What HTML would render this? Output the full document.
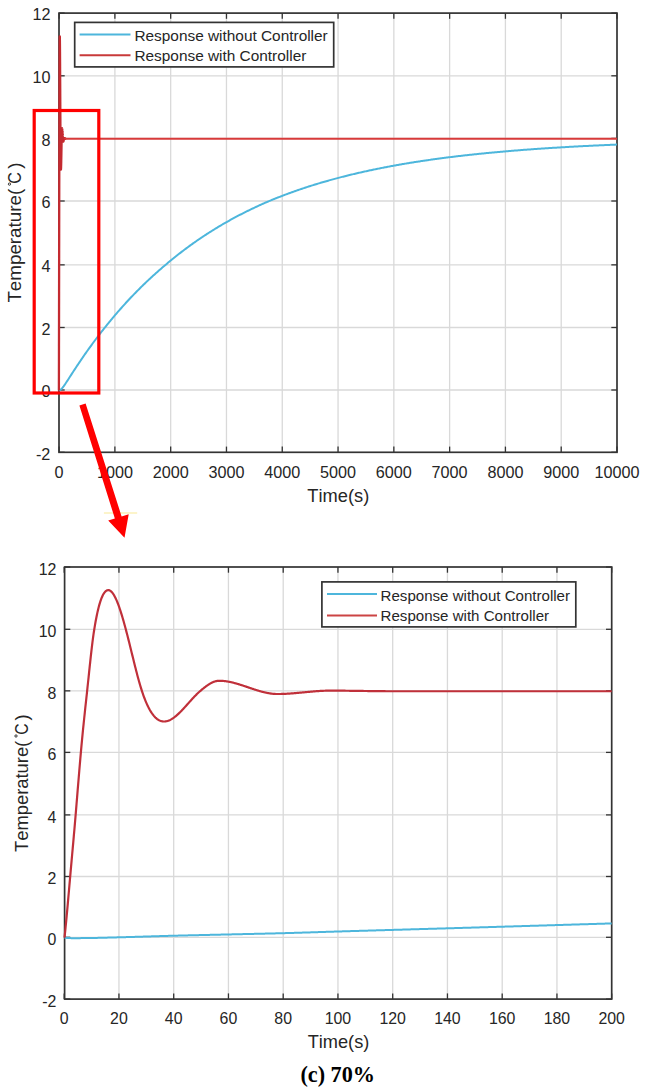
<!DOCTYPE html>
<html><head><meta charset="utf-8"><style>
html,body{margin:0;padding:0;background:#fff;}
svg{display:block;}
text{font-family:"Liberation Sans", sans-serif;fill:#262626;font-kerning:none;}
</style></head><body>
<svg width="645" height="1089" viewBox="0 0 645 1089">
<rect width="645" height="1089" fill="#fff"/>
<line x1="114.89" y1="13.1" x2="114.89" y2="452.3" stroke="#d9d9d9" stroke-width="1.3"/>
<line x1="170.68" y1="13.1" x2="170.68" y2="452.3" stroke="#d9d9d9" stroke-width="1.3"/>
<line x1="226.47" y1="13.1" x2="226.47" y2="452.3" stroke="#d9d9d9" stroke-width="1.3"/>
<line x1="282.26" y1="13.1" x2="282.26" y2="452.3" stroke="#d9d9d9" stroke-width="1.3"/>
<line x1="338.05" y1="13.1" x2="338.05" y2="452.3" stroke="#d9d9d9" stroke-width="1.3"/>
<line x1="393.84" y1="13.1" x2="393.84" y2="452.3" stroke="#d9d9d9" stroke-width="1.3"/>
<line x1="449.63" y1="13.1" x2="449.63" y2="452.3" stroke="#d9d9d9" stroke-width="1.3"/>
<line x1="505.42" y1="13.1" x2="505.42" y2="452.3" stroke="#d9d9d9" stroke-width="1.3"/>
<line x1="561.21" y1="13.1" x2="561.21" y2="452.3" stroke="#d9d9d9" stroke-width="1.3"/>
<line x1="59.0" y1="390.00" x2="617.0" y2="390.00" stroke="#d9d9d9" stroke-width="1.3"/>
<line x1="59.0" y1="327.50" x2="617.0" y2="327.50" stroke="#d9d9d9" stroke-width="1.3"/>
<line x1="59.0" y1="264.85" x2="617.0" y2="264.85" stroke="#d9d9d9" stroke-width="1.3"/>
<line x1="59.0" y1="201.00" x2="617.0" y2="201.00" stroke="#d9d9d9" stroke-width="1.3"/>
<line x1="59.0" y1="138.40" x2="617.0" y2="138.40" stroke="#d9d9d9" stroke-width="1.3"/>
<line x1="59.0" y1="75.80" x2="617.0" y2="75.80" stroke="#d9d9d9" stroke-width="1.3"/>
<line x1="59.10" y1="452.3" x2="59.10" y2="446.6" stroke="#333333" stroke-width="1.3"/>
<line x1="59.10" y1="13.1" x2="59.10" y2="18.8" stroke="#333333" stroke-width="1.3"/>
<line x1="114.89" y1="452.3" x2="114.89" y2="446.6" stroke="#333333" stroke-width="1.3"/>
<line x1="114.89" y1="13.1" x2="114.89" y2="18.8" stroke="#333333" stroke-width="1.3"/>
<line x1="170.68" y1="452.3" x2="170.68" y2="446.6" stroke="#333333" stroke-width="1.3"/>
<line x1="170.68" y1="13.1" x2="170.68" y2="18.8" stroke="#333333" stroke-width="1.3"/>
<line x1="226.47" y1="452.3" x2="226.47" y2="446.6" stroke="#333333" stroke-width="1.3"/>
<line x1="226.47" y1="13.1" x2="226.47" y2="18.8" stroke="#333333" stroke-width="1.3"/>
<line x1="282.26" y1="452.3" x2="282.26" y2="446.6" stroke="#333333" stroke-width="1.3"/>
<line x1="282.26" y1="13.1" x2="282.26" y2="18.8" stroke="#333333" stroke-width="1.3"/>
<line x1="338.05" y1="452.3" x2="338.05" y2="446.6" stroke="#333333" stroke-width="1.3"/>
<line x1="338.05" y1="13.1" x2="338.05" y2="18.8" stroke="#333333" stroke-width="1.3"/>
<line x1="393.84" y1="452.3" x2="393.84" y2="446.6" stroke="#333333" stroke-width="1.3"/>
<line x1="393.84" y1="13.1" x2="393.84" y2="18.8" stroke="#333333" stroke-width="1.3"/>
<line x1="449.63" y1="452.3" x2="449.63" y2="446.6" stroke="#333333" stroke-width="1.3"/>
<line x1="449.63" y1="13.1" x2="449.63" y2="18.8" stroke="#333333" stroke-width="1.3"/>
<line x1="505.42" y1="452.3" x2="505.42" y2="446.6" stroke="#333333" stroke-width="1.3"/>
<line x1="505.42" y1="13.1" x2="505.42" y2="18.8" stroke="#333333" stroke-width="1.3"/>
<line x1="561.21" y1="452.3" x2="561.21" y2="446.6" stroke="#333333" stroke-width="1.3"/>
<line x1="561.21" y1="13.1" x2="561.21" y2="18.8" stroke="#333333" stroke-width="1.3"/>
<line x1="617.00" y1="452.3" x2="617.00" y2="446.6" stroke="#333333" stroke-width="1.3"/>
<line x1="617.00" y1="13.1" x2="617.00" y2="18.8" stroke="#333333" stroke-width="1.3"/>
<line x1="59.0" y1="452.30" x2="64.7" y2="452.30" stroke="#333333" stroke-width="1.3"/>
<line x1="617.0" y1="452.30" x2="611.3" y2="452.30" stroke="#333333" stroke-width="1.3"/>
<line x1="59.0" y1="390.00" x2="64.7" y2="390.00" stroke="#333333" stroke-width="1.3"/>
<line x1="617.0" y1="390.00" x2="611.3" y2="390.00" stroke="#333333" stroke-width="1.3"/>
<line x1="59.0" y1="327.50" x2="64.7" y2="327.50" stroke="#333333" stroke-width="1.3"/>
<line x1="617.0" y1="327.50" x2="611.3" y2="327.50" stroke="#333333" stroke-width="1.3"/>
<line x1="59.0" y1="264.85" x2="64.7" y2="264.85" stroke="#333333" stroke-width="1.3"/>
<line x1="617.0" y1="264.85" x2="611.3" y2="264.85" stroke="#333333" stroke-width="1.3"/>
<line x1="59.0" y1="201.00" x2="64.7" y2="201.00" stroke="#333333" stroke-width="1.3"/>
<line x1="617.0" y1="201.00" x2="611.3" y2="201.00" stroke="#333333" stroke-width="1.3"/>
<line x1="59.0" y1="138.40" x2="64.7" y2="138.40" stroke="#333333" stroke-width="1.3"/>
<line x1="617.0" y1="138.40" x2="611.3" y2="138.40" stroke="#333333" stroke-width="1.3"/>
<line x1="59.0" y1="75.80" x2="64.7" y2="75.80" stroke="#333333" stroke-width="1.3"/>
<line x1="617.0" y1="75.80" x2="611.3" y2="75.80" stroke="#333333" stroke-width="1.3"/>
<line x1="59.0" y1="13.10" x2="64.7" y2="13.10" stroke="#333333" stroke-width="1.3"/>
<line x1="617.0" y1="13.10" x2="611.3" y2="13.10" stroke="#333333" stroke-width="1.3"/>
<rect x="59.0" y="13.1" width="558.00" height="439.20" fill="none" stroke="#333333" stroke-width="1.7"/>
<path d="M58.90,390.40 L59.83,390.16 L60.76,389.53 L61.70,388.64 L62.63,387.56 L63.56,386.35 L64.49,385.05 L65.42,383.70 L66.35,382.30 L67.29,380.88 L68.22,379.44 L69.15,378.00 L70.08,376.55 L71.01,375.10 L71.94,373.65 L72.88,372.21 L73.81,370.78 L74.74,369.35 L75.67,367.93 L76.60,366.52 L77.53,365.12 L78.47,363.72 L79.40,362.33 L80.33,360.95 L81.26,359.58 L82.19,358.22 L83.12,356.86 L84.06,355.52 L84.99,354.18 L85.92,352.85 L86.85,351.53 L87.78,350.22 L88.72,348.91 L89.65,347.61 L90.58,346.33 L91.51,345.05 L92.44,343.77 L93.37,342.51 L94.31,341.25 L95.24,340.00 L96.17,338.76 L97.10,337.53 L98.03,336.30 L98.96,335.08 L99.90,333.87 L100.83,332.67 L101.76,331.47 L102.69,330.28 L103.62,329.10 L104.55,327.93 L105.49,326.76 L106.42,325.60 L107.35,324.44 L108.28,323.29 L109.21,322.15 L110.14,321.02 L111.08,319.89 L112.01,318.77 L112.94,317.66 L113.87,316.56 L114.80,315.46 L115.73,314.37 L116.67,313.28 L117.60,312.20 L118.53,311.13 L119.46,310.07 L120.39,309.01 L121.33,307.96 L122.26,306.91 L123.19,305.87 L124.12,304.84 L125.05,303.81 L125.98,302.79 L126.92,301.78 L127.85,300.77 L128.78,299.77 L129.71,298.78 L130.64,297.79 L131.57,296.81 L132.51,295.83 L133.44,294.86 L134.37,293.90 L135.30,292.94 L136.23,291.99 L137.16,291.04 L138.10,290.10 L139.03,289.17 L139.96,288.24 L140.89,287.32 L141.82,286.40 L142.75,285.49 L143.69,284.58 L144.62,283.68 L145.55,282.79 L146.48,281.90 L147.41,281.01 L148.35,280.14 L149.28,279.26 L150.21,278.40 L151.14,277.54 L152.07,276.68 L153.00,275.83 L153.94,274.98 L154.87,274.14 L155.80,273.31 L156.73,272.48 L157.66,271.65 L158.59,270.83 L159.53,270.02 L160.46,269.21 L161.39,268.40 L162.32,267.60 L163.25,266.81 L164.18,266.02 L165.12,265.23 L166.05,264.44 L166.98,263.65 L167.91,262.86 L168.84,262.08 L169.77,261.31 L170.71,260.54 L171.64,259.77 L172.57,259.01 L173.50,258.25 L174.43,257.50 L175.36,256.75 L176.30,256.01 L177.23,255.27 L178.16,254.54 L179.09,253.81 L180.02,253.09 L180.96,252.37 L181.89,251.65 L182.82,250.94 L183.75,250.24 L184.68,249.54 L185.61,248.84 L186.55,248.15 L187.48,247.46 L188.41,246.77 L189.34,246.09 L190.27,245.42 L191.20,244.74 L192.14,244.08 L193.07,243.41 L194.00,242.75 L194.93,242.10 L195.86,241.45 L196.79,240.80 L197.73,240.16 L198.66,239.52 L199.59,238.88 L200.52,238.25 L201.45,237.62 L202.38,237.00 L203.32,236.38 L204.25,235.76 L205.18,235.15 L206.11,234.54 L207.04,233.94 L207.98,233.34 L208.91,232.74 L209.84,232.15 L210.77,231.56 L211.70,230.97 L212.63,230.39 L213.57,229.81 L214.50,229.24 L215.43,228.67 L216.36,228.10 L217.29,227.53 L218.22,226.97 L219.16,226.42 L220.09,225.86 L221.02,225.31 L221.95,224.76 L222.88,224.22 L223.81,223.68 L224.75,223.14 L225.68,222.61 L226.61,222.08 L227.54,221.55 L228.47,221.03 L229.40,220.51 L230.34,219.99 L231.27,219.48 L232.20,218.97 L233.13,218.46 L234.06,217.95 L234.99,217.45 L235.93,216.95 L236.86,216.46 L237.79,215.97 L238.72,215.48 L239.65,214.99 L240.59,214.51 L241.52,214.03 L242.45,213.55 L243.38,213.08 L244.31,212.61 L245.24,212.14 L246.18,211.67 L247.11,211.21 L248.04,210.75 L248.97,210.29 L249.90,209.84 L250.83,209.39 L251.77,208.94 L252.70,208.50 L253.63,208.05 L254.56,207.61 L255.49,207.18 L256.42,206.74 L257.36,206.31 L258.29,205.88 L259.22,205.46 L260.15,205.03 L261.08,204.61 L262.01,204.19 L262.95,203.78 L263.88,203.36 L264.81,202.95 L265.74,202.54 L266.67,202.14 L267.61,201.73 L268.54,201.34 L269.47,200.94 L270.40,200.56 L271.33,200.17 L272.26,199.79 L273.20,199.41 L274.13,199.03 L275.06,198.65 L275.99,198.28 L276.92,197.91 L277.85,197.54 L278.79,197.17 L279.72,196.81 L280.65,196.45 L281.58,196.09 L282.51,195.73 L283.44,195.37 L284.38,195.02 L285.31,194.67 L286.24,194.32 L287.17,193.97 L288.10,193.63 L289.03,193.28 L289.97,192.94 L290.90,192.61 L291.83,192.27 L292.76,191.94 L293.69,191.60 L294.63,191.27 L295.56,190.95 L296.49,190.62 L297.42,190.30 L298.35,189.97 L299.28,189.65 L300.22,189.34 L301.15,189.02 L302.08,188.71 L303.01,188.39 L303.94,188.08 L304.87,187.78 L305.81,187.47 L306.74,187.17 L307.67,186.86 L308.60,186.56 L309.53,186.26 L310.46,185.97 L311.40,185.67 L312.33,185.38 L313.26,185.09 L314.19,184.80 L315.12,184.51 L316.05,184.23 L316.99,183.94 L317.92,183.66 L318.85,183.38 L319.78,183.10 L320.71,182.82 L321.64,182.55 L322.58,182.27 L323.51,182.00 L324.44,181.73 L325.37,181.46 L326.30,181.19 L327.24,180.93 L328.17,180.67 L329.10,180.40 L330.03,180.14 L330.96,179.88 L331.89,179.63 L332.83,179.37 L333.76,179.12 L334.69,178.87 L335.62,178.61 L336.55,178.37 L337.48,178.12 L338.42,177.87 L339.35,177.63 L340.28,177.38 L341.21,177.14 L342.14,176.90 L343.07,176.66 L344.01,176.43 L344.94,176.19 L345.87,175.96 L346.80,175.72 L347.73,175.49 L348.66,175.26 L349.60,175.03 L350.53,174.81 L351.46,174.58 L352.39,174.36 L353.32,174.13 L354.26,173.91 L355.19,173.69 L356.12,173.47 L357.05,173.26 L357.98,173.04 L358.91,172.83 L359.85,172.61 L360.78,172.40 L361.71,172.19 L362.64,171.98 L363.57,171.77 L364.50,171.56 L365.44,171.36 L366.37,171.16 L367.30,170.95 L368.23,170.75 L369.16,170.55 L370.09,170.35 L371.03,170.15 L371.96,169.96 L372.89,169.76 L373.82,169.57 L374.75,169.37 L375.68,169.18 L376.62,168.99 L377.55,168.80 L378.48,168.61 L379.41,168.43 L380.34,168.24 L381.27,168.05 L382.21,167.87 L383.14,167.69 L384.07,167.51 L385.00,167.33 L385.93,167.15 L386.87,166.97 L387.80,166.79 L388.73,166.62 L389.66,166.44 L390.59,166.27 L391.52,166.09 L392.46,165.92 L393.39,165.75 L394.32,165.58 L395.25,165.42 L396.18,165.25 L397.11,165.08 L398.05,164.92 L398.98,164.75 L399.91,164.59 L400.84,164.43 L401.77,164.27 L402.70,164.11 L403.64,163.95 L404.57,163.79 L405.50,163.63 L406.43,163.47 L407.36,163.32 L408.29,163.16 L409.23,163.01 L410.16,162.86 L411.09,162.71 L412.02,162.56 L412.95,162.41 L413.89,162.26 L414.82,162.11 L415.75,161.96 L416.68,161.82 L417.61,161.67 L418.54,161.53 L419.48,161.39 L420.41,161.24 L421.34,161.10 L422.27,160.96 L423.20,160.82 L424.13,160.68 L425.07,160.55 L426.00,160.41 L426.93,160.27 L427.86,160.14 L428.79,160.00 L429.72,159.87 L430.66,159.74 L431.59,159.60 L432.52,159.47 L433.45,159.34 L434.38,159.21 L435.31,159.08 L436.25,158.95 L437.18,158.83 L438.11,158.70 L439.04,158.58 L439.97,158.45 L440.91,158.33 L441.84,158.20 L442.77,158.08 L443.70,157.96 L444.63,157.84 L445.56,157.72 L446.50,157.60 L447.43,157.48 L448.36,157.36 L449.29,157.24 L450.22,157.13 L451.15,157.01 L452.09,156.90 L453.02,156.78 L453.95,156.67 L454.88,156.56 L455.81,156.44 L456.74,156.33 L457.68,156.22 L458.61,156.11 L459.54,156.00 L460.47,155.89 L461.40,155.78 L462.33,155.68 L463.27,155.57 L464.20,155.46 L465.13,155.36 L466.06,155.25 L466.99,155.15 L467.92,155.04 L468.86,154.94 L469.79,154.84 L470.72,154.74 L471.65,154.64 L472.58,154.54 L473.52,154.44 L474.45,154.34 L475.38,154.24 L476.31,154.14 L477.24,154.04 L478.17,153.95 L479.11,153.85 L480.04,153.75 L480.97,153.66 L481.90,153.57 L482.83,153.47 L483.76,153.38 L484.70,153.29 L485.63,153.19 L486.56,153.10 L487.49,153.01 L488.42,152.92 L489.35,152.83 L490.29,152.74 L491.22,152.65 L492.15,152.57 L493.08,152.48 L494.01,152.39 L494.94,152.30 L495.88,152.22 L496.81,152.13 L497.74,152.05 L498.67,151.96 L499.60,151.88 L500.54,151.80 L501.47,151.71 L502.40,151.63 L503.33,151.55 L504.26,151.47 L505.19,151.39 L506.13,151.31 L507.06,151.23 L507.99,151.15 L508.92,151.07 L509.85,150.99 L510.78,150.91 L511.72,150.84 L512.65,150.76 L513.58,150.68 L514.51,150.61 L515.44,150.53 L516.37,150.46 L517.31,150.38 L518.24,150.31 L519.17,150.24 L520.10,150.16 L521.03,150.09 L521.96,150.02 L522.90,149.95 L523.83,149.87 L524.76,149.80 L525.69,149.73 L526.62,149.66 L527.55,149.59 L528.49,149.52 L529.42,149.46 L530.35,149.39 L531.28,149.32 L532.21,149.25 L533.15,149.19 L534.08,149.12 L535.01,149.05 L535.94,148.99 L536.87,148.92 L537.80,148.86 L538.74,148.79 L539.67,148.73 L540.60,148.66 L541.53,148.60 L542.46,148.54 L543.39,148.48 L544.33,148.41 L545.26,148.35 L546.19,148.29 L547.12,148.23 L548.05,148.17 L548.98,148.11 L549.92,148.05 L550.85,147.99 L551.78,147.93 L552.71,147.87 L553.64,147.81 L554.57,147.75 L555.51,147.70 L556.44,147.64 L557.37,147.58 L558.30,147.53 L559.23,147.47 L560.17,147.41 L561.10,147.36 L562.03,147.30 L562.96,147.25 L563.89,147.19 L564.82,147.14 L565.76,147.09 L566.69,147.03 L567.62,146.98 L568.55,146.93 L569.48,146.87 L570.41,146.82 L571.35,146.77 L572.28,146.72 L573.21,146.67 L574.14,146.62 L575.07,146.57 L576.00,146.51 L576.94,146.46 L577.87,146.42 L578.80,146.37 L579.73,146.32 L580.66,146.27 L581.59,146.22 L582.53,146.17 L583.46,146.12 L584.39,146.08 L585.32,146.03 L586.25,145.98 L587.18,145.94 L588.12,145.89 L589.05,145.84 L589.98,145.80 L590.91,145.75 L591.84,145.71 L592.78,145.66 L593.71,145.62 L594.64,145.57 L595.57,145.53 L596.50,145.48 L597.43,145.44 L598.37,145.40 L599.30,145.35 L600.23,145.31 L601.16,145.27 L602.09,145.23 L603.02,145.18 L603.96,145.14 L604.89,145.10 L605.82,145.06 L606.75,145.02 L607.68,144.98 L608.61,144.94 L609.55,144.90 L610.48,144.86 L611.41,144.82 L612.34,144.78 L613.27,144.74 L614.20,144.70 L615.14,144.66 L616.07,144.62 L617.00,144.59" fill="none" stroke="#4db6dc" stroke-width="2" stroke-linejoin="round"/>
<path d="M58.90,390.40 L58.91,383.78 L58.93,376.77 L58.94,369.42 L58.96,361.82 L58.97,354.02 L58.98,346.09 L59.00,338.11 L59.01,330.12 L59.03,322.21 L59.04,314.41 L59.05,306.67 L59.07,298.95 L59.08,291.20 L59.10,283.37 L59.11,275.40 L59.12,267.24 L59.14,258.80 L59.15,250.30 L59.17,241.81 L59.18,233.36 L59.19,224.97 L59.21,216.67 L59.22,208.49 L59.23,200.46 L59.25,192.84 L59.26,185.52 L59.28,178.46 L59.29,171.62 L59.30,164.94 L59.32,158.40 L59.33,151.93 L59.35,145.50 L59.36,139.06 L59.37,132.54 L59.39,125.92 L59.40,119.29 L59.42,112.70 L59.43,106.24 L59.44,99.96 L59.46,93.94 L59.47,88.26 L59.49,82.97 L59.50,78.15 L59.51,73.82 L59.53,69.79 L59.54,66.03 L59.56,62.52 L59.57,59.27 L59.58,56.26 L59.60,53.49 L59.61,50.96 L59.63,48.66 L59.64,46.57 L59.65,44.70 L59.67,43.04 L59.68,41.58 L59.70,40.31 L59.71,39.24 L59.72,38.34 L59.74,37.63 L59.75,37.08 L59.77,36.69 L59.78,36.46 L59.79,36.39 L59.81,36.46 L59.82,36.68 L59.83,37.06 L59.85,37.58 L59.86,38.24 L59.88,39.04 L59.89,39.97 L59.90,41.02 L59.92,42.20 L59.93,43.50 L59.95,44.92 L59.96,46.44 L59.97,48.07 L59.99,49.80 L60.00,51.62 L60.02,53.54 L60.03,55.55 L60.04,57.64 L60.06,59.81 L60.07,62.05 L60.09,64.36 L60.10,66.74 L60.11,69.18 L60.13,71.68 L60.14,74.23 L60.16,76.83 L60.17,79.47 L60.18,82.16 L60.20,84.89 L60.21,87.66 L60.23,90.45 L60.24,93.26 L60.25,96.08 L60.27,98.92 L60.28,101.75 L60.30,104.59 L60.31,107.41 L60.32,110.21 L60.34,112.99 L60.35,115.74 L60.37,118.46 L60.38,121.13 L60.39,123.75 L60.41,126.32 L60.42,128.83 L60.43,131.27 L60.45,133.63 L60.46,135.92 L60.48,138.12 L60.49,140.22 L60.50,142.25 L60.52,144.19 L60.53,146.04 L60.55,147.82 L60.56,149.52 L60.57,151.13 L60.59,152.67 L60.60,154.14 L60.62,155.53 L60.63,156.84 L60.64,158.08 L60.66,159.25 L60.67,160.36 L60.69,161.39 L60.70,162.35 L60.71,163.25 L60.73,164.08 L60.74,164.85 L60.76,165.56 L60.77,166.20 L60.78,166.78 L60.80,167.31 L60.81,167.77 L60.83,168.18 L60.84,168.54 L60.85,168.84 L60.87,169.08 L60.88,169.28 L60.90,169.42 L60.91,169.52 L60.92,169.56 L60.94,169.56 L60.95,169.52 L60.96,169.43 L60.98,169.30 L60.99,169.14 L61.01,168.93 L61.02,168.69 L61.03,168.41 L61.05,168.10 L61.06,167.75 L61.08,167.37 L61.09,166.96 L61.10,166.52 L61.12,166.06 L61.13,165.56 L61.15,165.04 L61.16,164.49 L61.17,163.92 L61.19,163.33 L61.20,162.72 L61.22,162.09 L61.23,161.44 L61.24,160.77 L61.26,160.08 L61.27,159.38 L61.29,158.67 L61.30,157.95 L61.31,157.21 L61.33,156.46 L61.34,155.71 L61.36,154.95 L61.37,154.18 L61.38,153.41 L61.40,152.63 L61.41,151.85 L61.43,151.07 L61.44,150.29 L61.45,149.51 L61.47,148.74 L61.48,147.97 L61.50,147.20 L61.51,146.44 L61.52,145.69 L61.54,144.94 L61.55,144.21 L61.56,143.49 L61.58,142.78 L61.59,142.08 L61.61,141.40 L61.62,140.73 L61.63,140.09 L61.65,139.46 L61.66,138.85 L61.68,138.25 L61.69,137.66 L61.70,137.08 L61.72,136.50 L61.73,135.94 L61.75,135.38 L61.76,134.84 L61.77,134.30 L61.79,133.78 L61.80,133.28 L61.82,132.79 L61.83,132.32 L61.84,131.87 L61.86,131.44 L61.87,131.02 L61.89,130.64 L61.90,130.27 L61.91,129.93 L61.93,129.62 L61.94,129.33 L61.96,129.07 L61.97,128.84 L61.98,128.64 L62.00,128.48 L62.01,128.34 L62.03,128.25 L62.04,128.18 L62.05,128.16 L62.07,128.16 L62.08,128.18 L62.10,128.20 L62.11,128.24 L62.12,128.28 L62.14,128.34 L62.15,128.40 L62.16,128.48 L62.18,128.56 L62.19,128.65 L62.21,128.76 L62.22,128.86 L62.23,128.98 L62.25,129.11 L62.26,129.24 L62.28,129.38 L62.29,129.53 L62.30,129.68 L62.32,129.84 L62.33,130.01 L62.35,130.18 L62.36,130.36 L62.37,130.54 L62.39,130.73 L62.40,130.92 L62.42,131.12 L62.43,131.32 L62.44,131.53 L62.46,131.74 L62.47,131.95 L62.49,132.17 L62.50,132.39 L62.51,132.61 L62.53,132.84 L62.54,133.07 L62.56,133.30 L62.57,133.53 L62.58,133.76 L62.60,133.99 L62.61,134.23 L62.63,134.47 L62.64,134.70 L62.65,134.94 L62.67,135.18 L62.68,135.41 L62.70,135.65 L62.71,135.88 L62.72,136.12 L62.74,136.35 L62.75,136.58 L62.76,136.81 L62.78,137.04 L62.79,137.26 L62.81,137.48 L62.82,137.70 L62.83,137.92 L62.85,138.13 L62.86,138.34 L62.88,138.54 L62.89,138.74 L62.90,138.94 L62.92,139.13 L62.93,139.32 L62.95,139.50 L62.96,139.67 L62.97,139.84 L62.99,140.01 L63.00,140.16 L63.02,140.31 L63.03,140.46 L63.04,140.59 L63.06,140.72 L63.07,140.85 L63.09,140.96 L63.10,141.06 L63.11,141.16 L63.13,141.25 L63.14,141.33 L63.16,141.40 L63.17,141.46 L63.18,141.51 L63.20,141.55 L63.21,141.59 L63.23,141.61 L63.24,141.62 L63.25,141.62 L63.27,141.61 L63.28,141.61 L63.30,141.60 L63.31,141.58 L63.32,141.57 L63.34,141.55 L63.35,141.52 L63.36,141.50 L63.38,141.47 L63.39,141.44 L63.41,141.41 L63.42,141.37 L63.43,141.33 L63.45,141.29 L63.46,141.25 L63.48,141.21 L63.49,141.16 L63.50,141.11 L63.52,141.06 L63.53,141.01 L63.55,140.96 L63.56,140.90 L63.57,140.85 L63.59,140.79 L63.60,140.73 L63.62,140.67 L63.63,140.61 L63.64,140.55 L63.66,140.48 L63.67,140.42 L63.69,140.35 L63.70,140.29 L63.71,140.22 L63.73,140.16 L63.74,140.09 L63.76,140.02 L63.77,139.96 L63.78,139.89 L63.80,139.82 L63.81,139.76 L63.83,139.69 L63.84,139.62 L63.85,139.56 L63.87,139.49 L63.88,139.43 L63.89,139.36 L63.91,139.30 L63.92,139.24 L63.94,139.17 L63.95,139.11 L63.96,139.05 L63.98,138.99 L63.99,138.94 L64.01,138.88 L64.02,138.83 L64.03,138.77 L64.05,138.72 L64.06,138.67 L64.08,138.62 L64.09,138.58 L64.10,138.53 L64.12,138.49 L64.13,138.45 L64.15,138.41 L64.16,138.38 L64.17,138.35 L64.19,138.32 L64.20,138.29 L64.22,138.26 L64.23,138.24 L64.24,138.22 L64.26,138.21 L64.27,138.19 L64.29,138.18 L64.30,138.18 L64.31,138.17 L64.33,138.17 L64.34,138.17 L64.36,138.18 L64.37,138.18 L64.38,138.18 L64.40,138.18 L64.41,138.18 L64.43,138.19 L64.44,138.19 L64.45,138.19 L64.47,138.20 L64.48,138.20 L64.49,138.21 L64.51,138.21 L64.52,138.22 L64.54,138.22 L64.55,138.23 L64.56,138.23 L64.58,138.24 L64.59,138.25 L64.61,138.25 L64.62,138.26 L64.63,138.27 L64.65,138.28 L64.66,138.28 L64.68,138.29 L64.69,138.30 L64.70,138.31 L64.72,138.32 L64.73,138.33 L64.75,138.34 L64.76,138.35 L64.77,138.36 L64.79,138.36 L64.80,138.37 L64.82,138.38 L64.83,138.39 L64.84,138.40 L64.86,138.41 L64.87,138.42 L64.89,138.43 L64.90,138.44 L64.91,138.45 L64.93,138.46 L64.94,138.47 L64.96,138.48 L64.97,138.49 L64.98,138.51 L65.00,138.52 L65.01,138.53 L65.03,138.54 L65.04,138.55 L65.05,138.56 L65.07,138.57 L65.08,138.58 L65.09,138.59 L65.11,138.60 L65.12,138.61 L65.14,138.61 L65.15,138.62 L65.16,138.63 L65.18,138.64 L65.19,138.65 L65.21,138.66 L65.22,138.67 L65.23,138.68 L65.25,138.69 L65.26,138.69 L65.28,138.70 L65.29,138.71 L65.30,138.72 L65.32,138.72 L65.33,138.73 L65.35,138.74 L65.36,138.74 L65.37,138.75 L65.39,138.76 L65.40,138.76 L65.42,138.77 L65.43,138.77 L65.44,138.78 L65.46,138.78 L65.47,138.78 L65.49,138.79 L65.50,138.79 L65.51,138.79 L65.53,138.79 L65.54,138.80 L65.56,138.80 L65.57,138.80 L65.58,138.80 L65.60,138.80 L65.61,138.80 L65.63,138.80 L65.64,138.80 L65.65,138.80 L65.67,138.80 L65.68,138.80 L65.69,138.80 L65.71,138.80 L65.72,138.80 L65.74,138.80 L65.75,138.80 L65.76,138.80 L65.78,138.80 L65.79,138.80 L65.81,138.80 L65.82,138.80 L65.83,138.80 L65.85,138.80 L65.86,138.80 L65.88,138.80 L65.89,138.80 L65.90,138.80 L65.92,138.80 L65.93,138.80 L65.95,138.80 L65.96,138.80 L65.97,138.80 L65.99,138.80 L66.00,138.80 L66.02,138.80 L66.03,138.80 L66.04,138.80 L66.06,138.80 L66.07,138.80 L66.09,138.80 L66.10,138.80 L66.11,138.80 L66.13,138.80 L66.14,138.80 L66.16,138.80" fill="none" stroke="#c42a30" stroke-width="2.3" stroke-linejoin="round"/>
<path d="M64.48,138.20 L65.87,138.80 L67.25,138.80 L68.64,138.80 L70.02,138.80 L71.40,138.80 L72.79,138.80 L74.17,138.80 L75.56,138.80 L76.94,138.80 L78.33,138.80 L79.71,138.80 L81.10,138.80 L82.48,138.80 L83.87,138.80 L85.25,138.80 L86.64,138.80 L88.02,138.80 L89.41,138.80 L90.79,138.80 L92.18,138.80 L93.56,138.80 L94.95,138.80 L96.33,138.80 L97.72,138.80 L99.10,138.80 L100.48,138.80 L101.87,138.80 L103.25,138.80 L104.64,138.80 L106.02,138.80 L107.41,138.80 L108.79,138.80 L110.18,138.80 L111.56,138.80 L112.95,138.80 L114.33,138.80 L115.72,138.80 L117.10,138.80 L118.49,138.80 L119.87,138.80 L121.26,138.80 L122.64,138.80 L124.03,138.80 L125.41,138.80 L126.80,138.80 L128.18,138.80 L129.56,138.80 L130.95,138.80 L132.33,138.80 L133.72,138.80 L135.10,138.80 L136.49,138.80 L137.87,138.80 L139.26,138.80 L140.64,138.80 L142.03,138.80 L143.41,138.80 L144.80,138.80 L146.18,138.80 L147.57,138.80 L148.95,138.80 L150.34,138.80 L151.72,138.80 L153.11,138.80 L154.49,138.80 L155.88,138.80 L157.26,138.80 L158.64,138.80 L160.03,138.80 L161.41,138.80 L162.80,138.80 L164.18,138.80 L165.57,138.80 L166.95,138.80 L168.34,138.80 L169.72,138.80 L171.11,138.80 L172.49,138.80 L173.88,138.80 L175.26,138.80 L176.65,138.80 L178.03,138.80 L179.42,138.80 L180.80,138.80 L182.19,138.80 L183.57,138.80 L184.96,138.80 L186.34,138.80 L187.72,138.80 L189.11,138.80 L190.49,138.80 L191.88,138.80 L193.26,138.80 L194.65,138.80 L196.03,138.80 L197.42,138.80 L198.80,138.80 L200.19,138.80 L201.57,138.80 L202.96,138.80 L204.34,138.80 L205.73,138.80 L207.11,138.80 L208.50,138.80 L209.88,138.80 L211.27,138.80 L212.65,138.80 L214.04,138.80 L215.42,138.80 L216.80,138.80 L218.19,138.80 L219.57,138.80 L220.96,138.80 L222.34,138.80 L223.73,138.80 L225.11,138.80 L226.50,138.80 L227.88,138.80 L229.27,138.80 L230.65,138.80 L232.04,138.80 L233.42,138.80 L234.81,138.80 L236.19,138.80 L237.58,138.80 L238.96,138.80 L240.35,138.80 L241.73,138.80 L243.11,138.80 L244.50,138.80 L245.88,138.80 L247.27,138.80 L248.65,138.80 L250.04,138.80 L251.42,138.80 L252.81,138.80 L254.19,138.80 L255.58,138.80 L256.96,138.80 L258.35,138.80 L259.73,138.80 L261.12,138.80 L262.50,138.80 L263.89,138.80 L265.27,138.80 L266.66,138.80 L268.04,138.80 L269.43,138.80 L270.81,138.80 L272.19,138.80 L273.58,138.80 L274.96,138.80 L276.35,138.80 L277.73,138.80 L279.12,138.80 L280.50,138.80 L281.89,138.80 L283.27,138.80 L284.66,138.80 L286.04,138.80 L287.43,138.80 L288.81,138.80 L290.20,138.80 L291.58,138.80 L292.97,138.80 L294.35,138.80 L295.74,138.80 L297.12,138.80 L298.51,138.80 L299.89,138.80 L301.27,138.80 L302.66,138.80 L304.04,138.80 L305.43,138.80 L306.81,138.80 L308.20,138.80 L309.58,138.80 L310.97,138.80 L312.35,138.80 L313.74,138.80 L315.12,138.80 L316.51,138.80 L317.89,138.80 L319.28,138.80 L320.66,138.80 L322.05,138.80 L323.43,138.80 L324.82,138.80 L326.20,138.80 L327.59,138.80 L328.97,138.80 L330.35,138.80 L331.74,138.80 L333.12,138.80 L334.51,138.80 L335.89,138.80 L337.28,138.80 L338.66,138.80 L340.05,138.80 L341.43,138.80 L342.82,138.80 L344.20,138.80 L345.59,138.80 L346.97,138.80 L348.36,138.80 L349.74,138.80 L351.13,138.80 L352.51,138.80 L353.90,138.80 L355.28,138.80 L356.67,138.80 L358.05,138.80 L359.43,138.80 L360.82,138.80 L362.20,138.80 L363.59,138.80 L364.97,138.80 L366.36,138.80 L367.74,138.80 L369.13,138.80 L370.51,138.80 L371.90,138.80 L373.28,138.80 L374.67,138.80 L376.05,138.80 L377.44,138.80 L378.82,138.80 L380.21,138.80 L381.59,138.80 L382.98,138.80 L384.36,138.80 L385.75,138.80 L387.13,138.80 L388.51,138.80 L389.90,138.80 L391.28,138.80 L392.67,138.80 L394.05,138.80 L395.44,138.80 L396.82,138.80 L398.21,138.80 L399.59,138.80 L400.98,138.80 L402.36,138.80 L403.75,138.80 L405.13,138.80 L406.52,138.80 L407.90,138.80 L409.29,138.80 L410.67,138.80 L412.06,138.80 L413.44,138.80 L414.83,138.80 L416.21,138.80 L417.59,138.80 L418.98,138.80 L420.36,138.80 L421.75,138.80 L423.13,138.80 L424.52,138.80 L425.90,138.80 L427.29,138.80 L428.67,138.80 L430.06,138.80 L431.44,138.80 L432.83,138.80 L434.21,138.80 L435.60,138.80 L436.98,138.80 L438.37,138.80 L439.75,138.80 L441.14,138.80 L442.52,138.80 L443.91,138.80 L445.29,138.80 L446.67,138.80 L448.06,138.80 L449.44,138.80 L450.83,138.80 L452.21,138.80 L453.60,138.80 L454.98,138.80 L456.37,138.80 L457.75,138.80 L459.14,138.80 L460.52,138.80 L461.91,138.80 L463.29,138.80 L464.68,138.80 L466.06,138.80 L467.45,138.80 L468.83,138.80 L470.22,138.80 L471.60,138.80 L472.99,138.80 L474.37,138.80 L475.75,138.80 L477.14,138.80 L478.52,138.80 L479.91,138.80 L481.29,138.80 L482.68,138.80 L484.06,138.80 L485.45,138.80 L486.83,138.80 L488.22,138.80 L489.60,138.80 L490.99,138.80 L492.37,138.80 L493.76,138.80 L495.14,138.80 L496.53,138.80 L497.91,138.80 L499.30,138.80 L500.68,138.80 L502.06,138.80 L503.45,138.80 L504.83,138.80 L506.22,138.80 L507.60,138.80 L508.99,138.80 L510.37,138.80 L511.76,138.80 L513.14,138.80 L514.53,138.80 L515.91,138.80 L517.30,138.80 L518.68,138.80 L520.07,138.80 L521.45,138.80 L522.84,138.80 L524.22,138.80 L525.61,138.80 L526.99,138.80 L528.38,138.80 L529.76,138.80 L531.14,138.80 L532.53,138.80 L533.91,138.80 L535.30,138.80 L536.68,138.80 L538.07,138.80 L539.45,138.80 L540.84,138.80 L542.22,138.80 L543.61,138.80 L544.99,138.80 L546.38,138.80 L547.76,138.80 L549.15,138.80 L550.53,138.80 L551.92,138.80 L553.30,138.80 L554.69,138.80 L556.07,138.80 L557.46,138.80 L558.84,138.80 L560.22,138.80 L561.61,138.80 L562.99,138.80 L564.38,138.80 L565.76,138.80 L567.15,138.80 L568.53,138.80 L569.92,138.80 L571.30,138.80 L572.69,138.80 L574.07,138.80 L575.46,138.80 L576.84,138.80 L578.23,138.80 L579.61,138.80 L581.00,138.80 L582.38,138.80 L583.77,138.80 L585.15,138.80 L586.54,138.80 L587.92,138.80 L589.30,138.80 L590.69,138.80 L592.07,138.80 L593.46,138.80 L594.84,138.80 L596.23,138.80 L597.61,138.80 L599.00,138.80 L600.38,138.80 L601.77,138.80 L603.15,138.80 L604.54,138.80 L605.92,138.80 L607.31,138.80 L608.69,138.80 L610.08,138.80 L611.46,138.80 L612.85,138.80 L614.23,138.80 L615.62,138.80 L617.00,138.80" fill="none" stroke="#d83a3a" stroke-width="2.0" stroke-linejoin="round"/>
<text x="59.10" y="477.70" text-anchor="middle" font-size="16.2">0</text>
<text x="114.89" y="477.70" text-anchor="middle" font-size="16.2">1000</text>
<text x="170.68" y="477.70" text-anchor="middle" font-size="16.2">2000</text>
<text x="226.47" y="477.70" text-anchor="middle" font-size="16.2">3000</text>
<text x="282.26" y="477.70" text-anchor="middle" font-size="16.2">4000</text>
<text x="338.05" y="477.70" text-anchor="middle" font-size="16.2">5000</text>
<text x="393.84" y="477.70" text-anchor="middle" font-size="16.2">6000</text>
<text x="449.63" y="477.70" text-anchor="middle" font-size="16.2">7000</text>
<text x="505.42" y="477.70" text-anchor="middle" font-size="16.2">8000</text>
<text x="561.21" y="477.70" text-anchor="middle" font-size="16.2">9000</text>
<text x="617.00" y="477.70" text-anchor="middle" font-size="16.2">10000</text>
<text x="50.40" y="459.60" text-anchor="end" font-size="16.2">-2</text>
<text x="50.40" y="397.30" text-anchor="end" font-size="16.2">0</text>
<text x="50.40" y="334.80" text-anchor="end" font-size="16.2">2</text>
<text x="50.40" y="272.15" text-anchor="end" font-size="16.2">4</text>
<text x="50.40" y="208.30" text-anchor="end" font-size="16.2">6</text>
<text x="50.40" y="145.70" text-anchor="end" font-size="16.2">8</text>
<text x="50.40" y="83.10" text-anchor="end" font-size="16.2">10</text>
<text x="50.40" y="20.40" text-anchor="end" font-size="16.2">12</text>
<rect x="74.7" y="22.4" width="259.00" height="44.50" fill="#fff" stroke="#333333" stroke-width="1.7"/>
<line x1="79.6" y1="34.4" x2="130.5" y2="34.4" stroke="#4db6dc" stroke-width="2"/>
<line x1="79.6" y1="55.3" x2="130.5" y2="55.3" stroke="#c83a3a" stroke-width="2"/>
<text x="134.4" y="40.50" font-size="15.4">Response without Controller</text>
<text x="134.4" y="61.40" font-size="15.4">Response with Controller</text>
<text x="338.35" y="502.10" text-anchor="middle" font-size="18.3">Time(s)</text>
<g transform="translate(21.4,302.6) rotate(-90)" font-size="18.8"><text x="0" y="0">Temperature(</text><circle cx="118.5" cy="-11.95" r="1.15" fill="none" stroke="#262626" stroke-width="0.9"/><text transform="translate(118.93,0) scale(0.86,1)" x="0" y="0">C</text><text x="133.9" y="0">)</text></g>
<line x1="118.95" y1="567.0" x2="118.95" y2="999.1" stroke="#d9d9d9" stroke-width="1.3"/>
<line x1="173.70" y1="567.0" x2="173.70" y2="999.1" stroke="#d9d9d9" stroke-width="1.3"/>
<line x1="228.45" y1="567.0" x2="228.45" y2="999.1" stroke="#d9d9d9" stroke-width="1.3"/>
<line x1="283.20" y1="567.0" x2="283.20" y2="999.1" stroke="#d9d9d9" stroke-width="1.3"/>
<line x1="337.95" y1="567.0" x2="337.95" y2="999.1" stroke="#d9d9d9" stroke-width="1.3"/>
<line x1="392.70" y1="567.0" x2="392.70" y2="999.1" stroke="#d9d9d9" stroke-width="1.3"/>
<line x1="447.45" y1="567.0" x2="447.45" y2="999.1" stroke="#d9d9d9" stroke-width="1.3"/>
<line x1="502.20" y1="567.0" x2="502.20" y2="999.1" stroke="#d9d9d9" stroke-width="1.3"/>
<line x1="556.95" y1="567.0" x2="556.95" y2="999.1" stroke="#d9d9d9" stroke-width="1.3"/>
<line x1="64.6" y1="937.30" x2="611.7" y2="937.30" stroke="#d9d9d9" stroke-width="1.3"/>
<line x1="64.6" y1="876.50" x2="611.7" y2="876.50" stroke="#d9d9d9" stroke-width="1.3"/>
<line x1="64.6" y1="814.90" x2="611.7" y2="814.90" stroke="#d9d9d9" stroke-width="1.3"/>
<line x1="64.6" y1="752.40" x2="611.7" y2="752.40" stroke="#d9d9d9" stroke-width="1.3"/>
<line x1="64.6" y1="690.85" x2="611.7" y2="690.85" stroke="#d9d9d9" stroke-width="1.3"/>
<line x1="64.6" y1="629.30" x2="611.7" y2="629.30" stroke="#d9d9d9" stroke-width="1.3"/>
<line x1="64.20" y1="999.1" x2="64.20" y2="993.4" stroke="#333333" stroke-width="1.3"/>
<line x1="64.20" y1="567.0" x2="64.20" y2="572.7" stroke="#333333" stroke-width="1.3"/>
<line x1="118.95" y1="999.1" x2="118.95" y2="993.4" stroke="#333333" stroke-width="1.3"/>
<line x1="118.95" y1="567.0" x2="118.95" y2="572.7" stroke="#333333" stroke-width="1.3"/>
<line x1="173.70" y1="999.1" x2="173.70" y2="993.4" stroke="#333333" stroke-width="1.3"/>
<line x1="173.70" y1="567.0" x2="173.70" y2="572.7" stroke="#333333" stroke-width="1.3"/>
<line x1="228.45" y1="999.1" x2="228.45" y2="993.4" stroke="#333333" stroke-width="1.3"/>
<line x1="228.45" y1="567.0" x2="228.45" y2="572.7" stroke="#333333" stroke-width="1.3"/>
<line x1="283.20" y1="999.1" x2="283.20" y2="993.4" stroke="#333333" stroke-width="1.3"/>
<line x1="283.20" y1="567.0" x2="283.20" y2="572.7" stroke="#333333" stroke-width="1.3"/>
<line x1="337.95" y1="999.1" x2="337.95" y2="993.4" stroke="#333333" stroke-width="1.3"/>
<line x1="337.95" y1="567.0" x2="337.95" y2="572.7" stroke="#333333" stroke-width="1.3"/>
<line x1="392.70" y1="999.1" x2="392.70" y2="993.4" stroke="#333333" stroke-width="1.3"/>
<line x1="392.70" y1="567.0" x2="392.70" y2="572.7" stroke="#333333" stroke-width="1.3"/>
<line x1="447.45" y1="999.1" x2="447.45" y2="993.4" stroke="#333333" stroke-width="1.3"/>
<line x1="447.45" y1="567.0" x2="447.45" y2="572.7" stroke="#333333" stroke-width="1.3"/>
<line x1="502.20" y1="999.1" x2="502.20" y2="993.4" stroke="#333333" stroke-width="1.3"/>
<line x1="502.20" y1="567.0" x2="502.20" y2="572.7" stroke="#333333" stroke-width="1.3"/>
<line x1="556.95" y1="999.1" x2="556.95" y2="993.4" stroke="#333333" stroke-width="1.3"/>
<line x1="556.95" y1="567.0" x2="556.95" y2="572.7" stroke="#333333" stroke-width="1.3"/>
<line x1="611.70" y1="999.1" x2="611.70" y2="993.4" stroke="#333333" stroke-width="1.3"/>
<line x1="611.70" y1="567.0" x2="611.70" y2="572.7" stroke="#333333" stroke-width="1.3"/>
<line x1="64.6" y1="999.10" x2="70.3" y2="999.10" stroke="#333333" stroke-width="1.3"/>
<line x1="611.7" y1="999.10" x2="606.0" y2="999.10" stroke="#333333" stroke-width="1.3"/>
<line x1="64.6" y1="937.30" x2="70.3" y2="937.30" stroke="#333333" stroke-width="1.3"/>
<line x1="611.7" y1="937.30" x2="606.0" y2="937.30" stroke="#333333" stroke-width="1.3"/>
<line x1="64.6" y1="876.50" x2="70.3" y2="876.50" stroke="#333333" stroke-width="1.3"/>
<line x1="611.7" y1="876.50" x2="606.0" y2="876.50" stroke="#333333" stroke-width="1.3"/>
<line x1="64.6" y1="814.90" x2="70.3" y2="814.90" stroke="#333333" stroke-width="1.3"/>
<line x1="611.7" y1="814.90" x2="606.0" y2="814.90" stroke="#333333" stroke-width="1.3"/>
<line x1="64.6" y1="752.40" x2="70.3" y2="752.40" stroke="#333333" stroke-width="1.3"/>
<line x1="611.7" y1="752.40" x2="606.0" y2="752.40" stroke="#333333" stroke-width="1.3"/>
<line x1="64.6" y1="690.85" x2="70.3" y2="690.85" stroke="#333333" stroke-width="1.3"/>
<line x1="611.7" y1="690.85" x2="606.0" y2="690.85" stroke="#333333" stroke-width="1.3"/>
<line x1="64.6" y1="629.30" x2="70.3" y2="629.30" stroke="#333333" stroke-width="1.3"/>
<line x1="611.7" y1="629.30" x2="606.0" y2="629.30" stroke="#333333" stroke-width="1.3"/>
<line x1="64.6" y1="567.00" x2="70.3" y2="567.00" stroke="#333333" stroke-width="1.3"/>
<line x1="611.7" y1="567.00" x2="606.0" y2="567.00" stroke="#333333" stroke-width="1.3"/>
<rect x="64.6" y="567.0" width="547.10" height="432.10" fill="none" stroke="#333333" stroke-width="1.7"/>
<path d="M64.50,937.70 L65.05,937.74 L65.59,937.79 L66.14,937.83 L66.69,937.88 L67.24,937.92 L67.78,937.96 L68.33,938.00 L68.88,938.03 L69.42,938.06 L69.97,938.09 L70.52,938.12 L71.07,938.14 L71.61,938.15 L72.16,938.16 L72.71,938.16 L73.26,938.16 L73.80,938.16 L74.35,938.16 L74.90,938.16 L75.44,938.16 L75.99,938.16 L76.54,938.15 L77.09,938.15 L77.63,938.15 L78.18,938.14 L78.73,938.14 L79.27,938.14 L79.82,938.13 L80.37,938.13 L80.92,938.12 L81.46,938.12 L82.01,938.11 L82.56,938.11 L83.10,938.10 L83.65,938.10 L84.20,938.09 L84.75,938.09 L85.29,938.08 L85.84,938.08 L86.39,938.07 L86.94,938.07 L87.48,938.06 L88.03,938.05 L88.58,938.05 L89.12,938.04 L89.67,938.03 L90.22,938.02 L90.77,938.01 L91.31,938.01 L91.86,938.00 L92.41,937.99 L92.95,937.98 L93.50,937.97 L94.05,937.96 L94.60,937.94 L95.14,937.93 L95.69,937.92 L96.24,937.91 L96.78,937.90 L97.33,937.89 L97.88,937.87 L98.43,937.86 L98.97,937.85 L99.52,937.83 L100.07,937.82 L100.62,937.81 L101.16,937.79 L101.71,937.78 L102.26,937.77 L102.80,937.75 L103.35,937.74 L103.90,937.72 L104.45,937.71 L104.99,937.69 L105.54,937.68 L106.09,937.66 L106.63,937.65 L107.18,937.63 L107.73,937.62 L108.28,937.60 L108.82,937.59 L109.37,937.57 L109.92,937.56 L110.46,937.54 L111.01,937.53 L111.56,937.51 L112.11,937.50 L112.65,937.48 L113.20,937.47 L113.75,937.45 L114.30,937.44 L114.84,937.42 L115.39,937.41 L115.94,937.39 L116.48,937.38 L117.03,937.36 L117.58,937.35 L118.13,937.33 L118.67,937.32 L119.22,937.30 L119.77,937.29 L120.31,937.28 L120.86,937.26 L121.41,937.25 L121.96,937.23 L122.50,937.22 L123.05,937.20 L123.60,937.19 L124.14,937.18 L124.69,937.16 L125.24,937.15 L125.79,937.13 L126.33,937.12 L126.88,937.10 L127.43,937.08 L127.98,937.07 L128.52,937.05 L129.07,937.04 L129.62,937.02 L130.16,937.01 L130.71,936.99 L131.26,936.98 L131.81,936.96 L132.35,936.94 L132.90,936.93 L133.45,936.91 L133.99,936.90 L134.54,936.88 L135.09,936.86 L135.64,936.85 L136.18,936.83 L136.73,936.81 L137.28,936.80 L137.82,936.78 L138.37,936.77 L138.92,936.75 L139.47,936.73 L140.01,936.72 L140.56,936.70 L141.11,936.68 L141.66,936.67 L142.20,936.65 L142.75,936.63 L143.30,936.62 L143.84,936.60 L144.39,936.58 L144.94,936.57 L145.49,936.55 L146.03,936.53 L146.58,936.52 L147.13,936.50 L147.67,936.48 L148.22,936.47 L148.77,936.45 L149.32,936.43 L149.86,936.42 L150.41,936.40 L150.96,936.38 L151.50,936.37 L152.05,936.35 L152.60,936.33 L153.15,936.32 L153.69,936.30 L154.24,936.28 L154.79,936.27 L155.34,936.25 L155.88,936.23 L156.43,936.22 L156.98,936.20 L157.52,936.19 L158.07,936.17 L158.62,936.15 L159.17,936.14 L159.71,936.12 L160.26,936.10 L160.81,936.09 L161.35,936.07 L161.90,936.06 L162.45,936.04 L163.00,936.02 L163.54,936.01 L164.09,935.99 L164.64,935.98 L165.18,935.96 L165.73,935.95 L166.28,935.93 L166.83,935.92 L167.37,935.90 L167.92,935.89 L168.47,935.87 L169.02,935.86 L169.56,935.84 L170.11,935.83 L170.66,935.81 L171.20,935.80 L171.75,935.78 L172.30,935.77 L172.85,935.75 L173.39,935.74 L173.94,935.72 L174.49,935.71 L175.03,935.70 L175.58,935.68 L176.13,935.67 L176.68,935.65 L177.22,935.64 L177.77,935.63 L178.32,935.61 L178.86,935.60 L179.41,935.59 L179.96,935.57 L180.51,935.56 L181.05,935.54 L181.60,935.53 L182.15,935.52 L182.70,935.50 L183.24,935.49 L183.79,935.48 L184.34,935.46 L184.88,935.45 L185.43,935.44 L185.98,935.42 L186.53,935.41 L187.07,935.40 L187.62,935.39 L188.17,935.37 L188.71,935.36 L189.26,935.35 L189.81,935.33 L190.36,935.32 L190.90,935.31 L191.45,935.30 L192.00,935.28 L192.54,935.27 L193.09,935.26 L193.64,935.24 L194.19,935.23 L194.73,935.22 L195.28,935.21 L195.83,935.19 L196.38,935.18 L196.92,935.17 L197.47,935.16 L198.02,935.14 L198.56,935.13 L199.11,935.12 L199.66,935.11 L200.21,935.09 L200.75,935.08 L201.30,935.07 L201.85,935.06 L202.39,935.04 L202.94,935.03 L203.49,935.02 L204.04,935.01 L204.58,934.99 L205.13,934.98 L205.68,934.97 L206.22,934.96 L206.77,934.94 L207.32,934.93 L207.87,934.92 L208.41,934.91 L208.96,934.90 L209.51,934.88 L210.06,934.87 L210.60,934.86 L211.15,934.85 L211.70,934.83 L212.24,934.82 L212.79,934.81 L213.34,934.80 L213.89,934.78 L214.43,934.77 L214.98,934.76 L215.53,934.75 L216.07,934.74 L216.62,934.72 L217.17,934.71 L217.72,934.70 L218.26,934.69 L218.81,934.67 L219.36,934.66 L219.90,934.65 L220.45,934.64 L221.00,934.62 L221.55,934.61 L222.09,934.60 L222.64,934.59 L223.19,934.57 L223.74,934.56 L224.28,934.55 L224.83,934.54 L225.38,934.52 L225.92,934.51 L226.47,934.50 L227.02,934.49 L227.57,934.47 L228.11,934.46 L228.66,934.45 L229.21,934.43 L229.75,934.42 L230.30,934.41 L230.85,934.40 L231.40,934.38 L231.94,934.37 L232.49,934.36 L233.04,934.35 L233.58,934.33 L234.13,934.32 L234.68,934.31 L235.23,934.30 L235.77,934.28 L236.32,934.27 L236.87,934.26 L237.42,934.25 L237.96,934.23 L238.51,934.22 L239.06,934.21 L239.60,934.20 L240.15,934.19 L240.70,934.17 L241.25,934.16 L241.79,934.15 L242.34,934.14 L242.89,934.12 L243.43,934.11 L243.98,934.10 L244.53,934.09 L245.08,934.07 L245.62,934.06 L246.17,934.05 L246.72,934.04 L247.26,934.03 L247.81,934.01 L248.36,934.00 L248.91,933.99 L249.45,933.98 L250.00,933.97 L250.55,933.95 L251.10,933.94 L251.64,933.93 L252.19,933.92 L252.74,933.90 L253.28,933.89 L253.83,933.88 L254.38,933.87 L254.93,933.85 L255.47,933.84 L256.02,933.83 L256.57,933.82 L257.11,933.81 L257.66,933.79 L258.21,933.78 L258.76,933.77 L259.30,933.76 L259.85,933.74 L260.40,933.73 L260.94,933.72 L261.49,933.71 L262.04,933.69 L262.59,933.68 L263.13,933.67 L263.68,933.66 L264.23,933.64 L264.78,933.63 L265.32,933.62 L265.87,933.60 L266.42,933.59 L266.96,933.58 L267.51,933.57 L268.06,933.55 L268.61,933.54 L269.15,933.53 L269.70,933.51 L270.25,933.50 L270.79,933.49 L271.34,933.47 L271.89,933.46 L272.44,933.45 L272.98,933.43 L273.53,933.42 L274.08,933.41 L274.62,933.39 L275.17,933.38 L275.72,933.37 L276.27,933.35 L276.81,933.34 L277.36,933.33 L277.91,933.31 L278.46,933.30 L279.00,933.28 L279.55,933.27 L280.10,933.26 L280.64,933.24 L281.19,933.23 L281.74,933.21 L282.29,933.20 L282.83,933.18 L283.38,933.17 L283.93,933.16 L284.47,933.14 L285.02,933.13 L285.57,933.11 L286.12,933.10 L286.66,933.08 L287.21,933.07 L287.76,933.05 L288.30,933.04 L288.85,933.02 L289.40,933.01 L289.95,932.99 L290.49,932.97 L291.04,932.96 L291.59,932.94 L292.14,932.93 L292.68,932.91 L293.23,932.90 L293.78,932.88 L294.32,932.86 L294.87,932.85 L295.42,932.83 L295.97,932.81 L296.51,932.80 L297.06,932.78 L297.61,932.77 L298.15,932.75 L298.70,932.73 L299.25,932.72 L299.80,932.70 L300.34,932.68 L300.89,932.67 L301.44,932.65 L301.98,932.63 L302.53,932.62 L303.08,932.60 L303.63,932.58 L304.17,932.56 L304.72,932.55 L305.27,932.53 L305.82,932.51 L306.36,932.50 L306.91,932.48 L307.46,932.46 L308.00,932.44 L308.55,932.43 L309.10,932.41 L309.65,932.39 L310.19,932.38 L310.74,932.36 L311.29,932.34 L311.83,932.32 L312.38,932.31 L312.93,932.29 L313.48,932.27 L314.02,932.25 L314.57,932.24 L315.12,932.22 L315.66,932.20 L316.21,932.18 L316.76,932.17 L317.31,932.15 L317.85,932.13 L318.40,932.11 L318.95,932.10 L319.50,932.08 L320.04,932.06 L320.59,932.04 L321.14,932.03 L321.68,932.01 L322.23,931.99 L322.78,931.97 L323.33,931.96 L323.87,931.94 L324.42,931.92 L324.97,931.90 L325.51,931.89 L326.06,931.87 L326.61,931.85 L327.16,931.84 L327.70,931.82 L328.25,931.80 L328.80,931.78 L329.34,931.77 L329.89,931.75 L330.44,931.73 L330.99,931.72 L331.53,931.70 L332.08,931.68 L332.63,931.66 L333.18,931.65 L333.72,931.63 L334.27,931.61 L334.82,931.60 L335.36,931.58 L335.91,931.56 L336.46,931.55 L337.01,931.53 L337.55,931.51 L338.10,931.50 L338.65,931.48 L339.19,931.47 L339.74,931.45 L340.29,931.43 L340.84,931.42 L341.38,931.40 L341.93,931.38 L342.48,931.37 L343.02,931.35 L343.57,931.34 L344.12,931.32 L344.67,931.30 L345.21,931.29 L345.76,931.27 L346.31,931.25 L346.86,931.24 L347.40,931.22 L347.95,931.21 L348.50,931.19 L349.04,931.17 L349.59,931.16 L350.14,931.14 L350.69,931.12 L351.23,931.11 L351.78,931.09 L352.33,931.08 L352.87,931.06 L353.42,931.04 L353.97,931.03 L354.52,931.01 L355.06,930.99 L355.61,930.98 L356.16,930.96 L356.70,930.95 L357.25,930.93 L357.80,930.91 L358.35,930.90 L358.89,930.88 L359.44,930.87 L359.99,930.85 L360.54,930.83 L361.08,930.82 L361.63,930.80 L362.18,930.79 L362.72,930.77 L363.27,930.75 L363.82,930.74 L364.37,930.72 L364.91,930.71 L365.46,930.69 L366.01,930.67 L366.55,930.66 L367.10,930.64 L367.65,930.63 L368.20,930.61 L368.74,930.59 L369.29,930.58 L369.84,930.56 L370.38,930.55 L370.93,930.53 L371.48,930.51 L372.03,930.50 L372.57,930.48 L373.12,930.47 L373.67,930.45 L374.22,930.43 L374.76,930.42 L375.31,930.40 L375.86,930.39 L376.40,930.37 L376.95,930.35 L377.50,930.34 L378.05,930.32 L378.59,930.31 L379.14,930.29 L379.69,930.28 L380.23,930.26 L380.78,930.24 L381.33,930.23 L381.88,930.21 L382.42,930.20 L382.97,930.18 L383.52,930.16 L384.06,930.15 L384.61,930.13 L385.16,930.12 L385.71,930.10 L386.25,930.09 L386.80,930.07 L387.35,930.05 L387.90,930.04 L388.44,930.02 L388.99,930.01 L389.54,929.99 L390.08,929.97 L390.63,929.96 L391.18,929.94 L391.73,929.93 L392.27,929.91 L392.82,929.90 L393.37,929.88 L393.91,929.86 L394.46,929.85 L395.01,929.83 L395.56,929.82 L396.10,929.80 L396.65,929.78 L397.20,929.77 L397.74,929.75 L398.29,929.74 L398.84,929.72 L399.39,929.71 L399.93,929.69 L400.48,929.67 L401.03,929.66 L401.58,929.64 L402.12,929.63 L402.67,929.61 L403.22,929.60 L403.76,929.58 L404.31,929.56 L404.86,929.55 L405.41,929.53 L405.95,929.52 L406.50,929.50 L407.05,929.49 L407.59,929.47 L408.14,929.45 L408.69,929.44 L409.24,929.42 L409.78,929.41 L410.33,929.39 L410.88,929.37 L411.42,929.36 L411.97,929.34 L412.52,929.33 L413.07,929.31 L413.61,929.30 L414.16,929.28 L414.71,929.26 L415.26,929.25 L415.80,929.23 L416.35,929.22 L416.90,929.20 L417.44,929.19 L417.99,929.17 L418.54,929.15 L419.09,929.14 L419.63,929.12 L420.18,929.11 L420.73,929.09 L421.27,929.08 L421.82,929.06 L422.37,929.04 L422.92,929.03 L423.46,929.01 L424.01,929.00 L424.56,928.98 L425.10,928.97 L425.65,928.95 L426.20,928.93 L426.75,928.92 L427.29,928.90 L427.84,928.89 L428.39,928.87 L428.94,928.85 L429.48,928.84 L430.03,928.82 L430.58,928.81 L431.12,928.79 L431.67,928.78 L432.22,928.76 L432.77,928.74 L433.31,928.73 L433.86,928.71 L434.41,928.70 L434.95,928.68 L435.50,928.67 L436.05,928.65 L436.60,928.63 L437.14,928.62 L437.69,928.60 L438.24,928.59 L438.78,928.57 L439.33,928.55 L439.88,928.54 L440.43,928.52 L440.97,928.51 L441.52,928.49 L442.07,928.48 L442.62,928.46 L443.16,928.44 L443.71,928.43 L444.26,928.41 L444.80,928.40 L445.35,928.38 L445.90,928.36 L446.45,928.35 L446.99,928.33 L447.54,928.32 L448.09,928.30 L448.63,928.28 L449.18,928.27 L449.73,928.25 L450.28,928.24 L450.82,928.22 L451.37,928.21 L451.92,928.19 L452.46,928.17 L453.01,928.16 L453.56,928.14 L454.11,928.13 L454.65,928.11 L455.20,928.09 L455.75,928.08 L456.30,928.06 L456.84,928.05 L457.39,928.03 L457.94,928.01 L458.48,928.00 L459.03,927.98 L459.58,927.97 L460.13,927.95 L460.67,927.93 L461.22,927.92 L461.77,927.90 L462.31,927.89 L462.86,927.87 L463.41,927.85 L463.96,927.84 L464.50,927.82 L465.05,927.81 L465.60,927.79 L466.14,927.77 L466.69,927.76 L467.24,927.74 L467.79,927.73 L468.33,927.71 L468.88,927.69 L469.43,927.68 L469.98,927.66 L470.52,927.65 L471.07,927.63 L471.62,927.61 L472.16,927.60 L472.71,927.58 L473.26,927.56 L473.81,927.55 L474.35,927.53 L474.90,927.52 L475.45,927.50 L475.99,927.48 L476.54,927.47 L477.09,927.45 L477.64,927.44 L478.18,927.42 L478.73,927.40 L479.28,927.39 L479.82,927.37 L480.37,927.35 L480.92,927.34 L481.47,927.32 L482.01,927.31 L482.56,927.29 L483.11,927.27 L483.66,927.26 L484.20,927.24 L484.75,927.22 L485.30,927.21 L485.84,927.19 L486.39,927.18 L486.94,927.16 L487.49,927.14 L488.03,927.13 L488.58,927.11 L489.13,927.09 L489.67,927.08 L490.22,927.06 L490.77,927.05 L491.32,927.03 L491.86,927.01 L492.41,927.00 L492.96,926.98 L493.50,926.97 L494.05,926.95 L494.60,926.93 L495.15,926.92 L495.69,926.90 L496.24,926.88 L496.79,926.87 L497.34,926.85 L497.88,926.84 L498.43,926.82 L498.98,926.80 L499.52,926.79 L500.07,926.77 L500.62,926.75 L501.17,926.74 L501.71,926.72 L502.26,926.71 L502.81,926.69 L503.35,926.67 L503.90,926.66 L504.45,926.64 L505.00,926.62 L505.54,926.61 L506.09,926.59 L506.64,926.57 L507.18,926.56 L507.73,926.54 L508.28,926.53 L508.83,926.51 L509.37,926.49 L509.92,926.48 L510.47,926.46 L511.02,926.44 L511.56,926.43 L512.11,926.41 L512.66,926.40 L513.20,926.38 L513.75,926.36 L514.30,926.35 L514.85,926.33 L515.39,926.31 L515.94,926.30 L516.49,926.28 L517.03,926.27 L517.58,926.25 L518.13,926.23 L518.68,926.22 L519.22,926.20 L519.77,926.18 L520.32,926.17 L520.86,926.15 L521.41,926.13 L521.96,926.12 L522.51,926.10 L523.05,926.09 L523.60,926.07 L524.15,926.05 L524.70,926.04 L525.24,926.02 L525.79,926.00 L526.34,925.99 L526.88,925.97 L527.43,925.95 L527.98,925.94 L528.53,925.92 L529.07,925.91 L529.62,925.89 L530.17,925.87 L530.71,925.86 L531.26,925.84 L531.81,925.82 L532.36,925.81 L532.90,925.79 L533.45,925.77 L534.00,925.76 L534.54,925.74 L535.09,925.73 L535.64,925.71 L536.19,925.69 L536.73,925.68 L537.28,925.66 L537.83,925.64 L538.38,925.63 L538.92,925.61 L539.47,925.59 L540.02,925.58 L540.56,925.56 L541.11,925.54 L541.66,925.53 L542.21,925.51 L542.75,925.50 L543.30,925.48 L543.85,925.46 L544.39,925.45 L544.94,925.43 L545.49,925.41 L546.04,925.40 L546.58,925.38 L547.13,925.36 L547.68,925.35 L548.22,925.33 L548.77,925.32 L549.32,925.30 L549.87,925.28 L550.41,925.27 L550.96,925.25 L551.51,925.23 L552.06,925.22 L552.60,925.20 L553.15,925.18 L553.70,925.17 L554.24,925.15 L554.79,925.13 L555.34,925.12 L555.89,925.10 L556.43,925.08 L556.98,925.07 L557.53,925.05 L558.07,925.04 L558.62,925.02 L559.17,925.00 L559.72,924.99 L560.26,924.97 L560.81,924.95 L561.36,924.94 L561.90,924.92 L562.45,924.90 L563.00,924.89 L563.55,924.87 L564.09,924.85 L564.64,924.84 L565.19,924.82 L565.74,924.80 L566.28,924.79 L566.83,924.77 L567.38,924.76 L567.92,924.74 L568.47,924.72 L569.02,924.71 L569.57,924.69 L570.11,924.67 L570.66,924.66 L571.21,924.64 L571.75,924.62 L572.30,924.61 L572.85,924.59 L573.40,924.57 L573.94,924.56 L574.49,924.54 L575.04,924.52 L575.58,924.51 L576.13,924.49 L576.68,924.47 L577.23,924.46 L577.77,924.44 L578.32,924.42 L578.87,924.41 L579.42,924.39 L579.96,924.37 L580.51,924.36 L581.06,924.34 L581.60,924.33 L582.15,924.31 L582.70,924.29 L583.25,924.28 L583.79,924.26 L584.34,924.24 L584.89,924.23 L585.43,924.21 L585.98,924.19 L586.53,924.18 L587.08,924.16 L587.62,924.14 L588.17,924.13 L588.72,924.11 L589.26,924.09 L589.81,924.08 L590.36,924.06 L590.91,924.04 L591.45,924.03 L592.00,924.01 L592.55,923.99 L593.10,923.98 L593.64,923.96 L594.19,923.94 L594.74,923.93 L595.28,923.91 L595.83,923.89 L596.38,923.88 L596.93,923.86 L597.47,923.84 L598.02,923.83 L598.57,923.81 L599.11,923.79 L599.66,923.78 L600.21,923.76 L600.76,923.74 L601.30,923.73 L601.85,923.71 L602.40,923.69 L602.94,923.68 L603.49,923.66 L604.04,923.65 L604.59,923.63 L605.13,923.61 L605.68,923.60 L606.23,923.58 L606.78,923.56 L607.32,923.55 L607.87,923.53 L608.42,923.51 L608.96,923.50 L609.51,923.48 L610.06,923.46 L610.61,923.45 L611.15,923.43 L611.70,923.41" fill="none" stroke="#4db6dc" stroke-width="2" stroke-linejoin="round"/>
<path d="M64.50,937.70 L65.05,932.58 L65.59,927.21 L66.14,921.61 L66.69,915.83 L67.24,909.90 L67.78,903.84 L68.33,897.69 L68.88,891.49 L69.42,885.27 L69.97,879.06 L70.52,872.85 L71.07,866.69 L71.61,860.59 L72.16,854.51 L72.71,848.44 L73.26,842.35 L73.80,836.21 L74.35,830.00 L74.90,823.69 L75.44,817.26 L75.99,810.65 L76.54,803.99 L77.09,797.34 L77.63,790.70 L78.18,784.08 L78.73,777.51 L79.27,770.99 L79.82,764.53 L80.37,758.15 L80.92,751.88 L81.46,745.86 L82.01,740.03 L82.56,734.38 L83.10,728.89 L83.65,723.52 L84.20,718.26 L84.75,713.08 L85.29,707.97 L85.84,702.89 L86.39,697.83 L86.94,692.77 L87.48,687.67 L88.03,682.50 L88.58,677.28 L89.12,672.07 L89.67,666.88 L90.22,661.76 L90.77,656.74 L91.31,651.86 L91.86,647.15 L92.41,642.64 L92.95,638.38 L93.50,634.40 L94.05,630.73 L94.60,627.34 L95.14,624.11 L95.69,621.06 L96.24,618.17 L96.78,615.44 L97.33,612.87 L97.88,610.46 L98.43,608.21 L98.97,606.10 L99.52,604.15 L100.07,602.33 L100.62,600.66 L101.16,599.12 L101.71,597.72 L102.26,596.45 L102.80,595.30 L103.35,594.28 L103.90,593.38 L104.45,592.60 L104.99,591.93 L105.54,591.37 L106.09,590.92 L106.63,590.58 L107.18,590.34 L107.73,590.19 L108.28,590.14 L108.82,590.18 L109.37,590.33 L109.92,590.57 L110.46,590.90 L111.01,591.33 L111.56,591.84 L112.11,592.44 L112.65,593.13 L113.20,593.90 L113.75,594.75 L114.30,595.68 L114.84,596.68 L115.39,597.76 L115.94,598.91 L116.48,600.13 L117.03,601.42 L117.58,602.77 L118.13,604.18 L118.67,605.65 L119.22,607.19 L119.77,608.77 L120.31,610.41 L120.86,612.11 L121.41,613.85 L121.96,615.64 L122.50,617.47 L123.05,619.35 L123.60,621.26 L124.14,623.22 L124.69,625.21 L125.24,627.23 L125.79,629.29 L126.33,631.35 L126.88,633.44 L127.43,635.56 L127.98,637.71 L128.52,639.87 L129.07,642.06 L129.62,644.26 L130.16,646.47 L130.71,648.69 L131.26,650.92 L131.81,653.15 L132.35,655.38 L132.90,657.61 L133.45,659.83 L133.99,662.04 L134.54,664.24 L135.09,666.42 L135.64,668.58 L136.18,670.72 L136.73,672.83 L137.28,674.91 L137.82,676.96 L138.37,678.98 L138.92,680.96 L139.47,682.89 L140.01,684.78 L140.56,686.62 L141.11,688.42 L141.66,690.15 L142.20,691.83 L142.75,693.46 L143.30,695.03 L143.84,696.55 L144.39,698.01 L144.94,699.43 L145.49,700.79 L146.03,702.11 L146.58,703.38 L147.13,704.59 L147.67,705.76 L148.22,706.89 L148.77,707.96 L149.32,708.99 L149.86,709.97 L150.41,710.91 L150.96,711.80 L151.50,712.65 L152.05,713.46 L152.60,714.22 L153.15,714.94 L153.69,715.62 L154.24,716.26 L154.79,716.86 L155.34,717.42 L155.88,717.94 L156.43,718.43 L156.98,718.87 L157.52,719.28 L158.07,719.65 L158.62,719.99 L159.17,720.29 L159.71,720.55 L160.26,720.78 L160.81,720.98 L161.35,721.15 L161.90,721.28 L162.45,721.38 L163.00,721.45 L163.54,721.49 L164.09,721.50 L164.64,721.48 L165.18,721.44 L165.73,721.37 L166.28,721.27 L166.83,721.15 L167.37,721.00 L167.92,720.83 L168.47,720.64 L169.02,720.42 L169.56,720.18 L170.11,719.92 L170.66,719.64 L171.20,719.34 L171.75,719.02 L172.30,718.68 L172.85,718.33 L173.39,717.95 L173.94,717.56 L174.49,717.15 L175.03,716.73 L175.58,716.29 L176.13,715.84 L176.68,715.37 L177.22,714.89 L177.77,714.40 L178.32,713.89 L178.86,713.38 L179.41,712.85 L179.96,712.31 L180.51,711.77 L181.05,711.21 L181.60,710.65 L182.15,710.08 L182.70,709.50 L183.24,708.91 L183.79,708.32 L184.34,707.73 L184.88,707.13 L185.43,706.52 L185.98,705.92 L186.53,705.31 L187.07,704.70 L187.62,704.08 L188.17,703.47 L188.71,702.86 L189.26,702.24 L189.81,701.63 L190.36,701.02 L190.90,700.41 L191.45,699.81 L192.00,699.21 L192.54,698.61 L193.09,698.02 L193.64,697.43 L194.19,696.86 L194.73,696.28 L195.28,695.72 L195.83,695.16 L196.38,694.61 L196.92,694.07 L197.47,693.54 L198.02,693.02 L198.56,692.51 L199.11,692.02 L199.66,691.53 L200.21,691.06 L200.75,690.60 L201.30,690.13 L201.85,689.67 L202.39,689.22 L202.94,688.77 L203.49,688.33 L204.04,687.89 L204.58,687.46 L205.13,687.04 L205.68,686.62 L206.22,686.22 L206.77,685.82 L207.32,685.44 L207.87,685.06 L208.41,684.70 L208.96,684.35 L209.51,684.01 L210.06,683.68 L210.60,683.37 L211.15,683.08 L211.70,682.79 L212.24,682.53 L212.79,682.28 L213.34,682.05 L213.89,681.83 L214.43,681.64 L214.98,681.46 L215.53,681.30 L216.07,681.16 L216.62,681.04 L217.17,680.95 L217.72,680.87 L218.26,680.82 L218.81,680.79 L219.36,680.79 L219.90,680.79 L220.45,680.80 L221.00,680.82 L221.55,680.85 L222.09,680.88 L222.64,680.92 L223.19,680.96 L223.74,681.01 L224.28,681.07 L224.83,681.13 L225.38,681.20 L225.92,681.27 L226.47,681.35 L227.02,681.44 L227.57,681.53 L228.11,681.62 L228.66,681.72 L229.21,681.82 L229.75,681.93 L230.30,682.04 L230.85,682.16 L231.40,682.28 L231.94,682.41 L232.49,682.54 L233.04,682.67 L233.58,682.81 L234.13,682.95 L234.68,683.09 L235.23,683.24 L235.77,683.39 L236.32,683.54 L236.87,683.70 L237.42,683.86 L237.96,684.02 L238.51,684.18 L239.06,684.35 L239.60,684.52 L240.15,684.69 L240.70,684.86 L241.25,685.03 L241.79,685.21 L242.34,685.39 L242.89,685.57 L243.43,685.75 L243.98,685.93 L244.53,686.11 L245.08,686.29 L245.62,686.48 L246.17,686.66 L246.72,686.85 L247.26,687.04 L247.81,687.22 L248.36,687.41 L248.91,687.59 L249.45,687.78 L250.00,687.97 L250.55,688.15 L251.10,688.34 L251.64,688.52 L252.19,688.70 L252.74,688.89 L253.28,689.07 L253.83,689.25 L254.38,689.43 L254.93,689.61 L255.47,689.78 L256.02,689.96 L256.57,690.13 L257.11,690.30 L257.66,690.47 L258.21,690.63 L258.76,690.80 L259.30,690.96 L259.85,691.12 L260.40,691.27 L260.94,691.43 L261.49,691.58 L262.04,691.72 L262.59,691.87 L263.13,692.01 L263.68,692.14 L264.23,692.28 L264.78,692.40 L265.32,692.53 L265.87,692.65 L266.42,692.77 L266.96,692.88 L267.51,692.99 L268.06,693.09 L268.61,693.19 L269.15,693.28 L269.70,693.37 L270.25,693.46 L270.79,693.54 L271.34,693.61 L271.89,693.68 L272.44,693.74 L272.98,693.79 L273.53,693.84 L274.08,693.89 L274.62,693.93 L275.17,693.96 L275.72,693.98 L276.27,694.00 L276.81,694.01 L277.36,694.02 L277.91,694.02 L278.46,694.02 L279.00,694.01 L279.55,694.00 L280.10,694.00 L280.64,693.98 L281.19,693.97 L281.74,693.96 L282.29,693.94 L282.83,693.92 L283.38,693.90 L283.93,693.88 L284.47,693.86 L285.02,693.83 L285.57,693.81 L286.12,693.78 L286.66,693.75 L287.21,693.72 L287.76,693.68 L288.30,693.65 L288.85,693.62 L289.40,693.58 L289.95,693.54 L290.49,693.50 L291.04,693.46 L291.59,693.42 L292.14,693.38 L292.68,693.34 L293.23,693.29 L293.78,693.25 L294.32,693.20 L294.87,693.16 L295.42,693.11 L295.97,693.06 L296.51,693.02 L297.06,692.97 L297.61,692.92 L298.15,692.87 L298.70,692.82 L299.25,692.77 L299.80,692.71 L300.34,692.66 L300.89,692.61 L301.44,692.56 L301.98,692.51 L302.53,692.45 L303.08,692.40 L303.63,692.35 L304.17,692.30 L304.72,692.24 L305.27,692.19 L305.82,692.14 L306.36,692.09 L306.91,692.03 L307.46,691.98 L308.00,691.93 L308.55,691.88 L309.10,691.83 L309.65,691.78 L310.19,691.73 L310.74,691.68 L311.29,691.63 L311.83,691.58 L312.38,691.53 L312.93,691.49 L313.48,691.44 L314.02,691.40 L314.57,691.35 L315.12,691.31 L315.66,691.26 L316.21,691.22 L316.76,691.18 L317.31,691.14 L317.85,691.10 L318.40,691.07 L318.95,691.03 L319.50,691.00 L320.04,690.96 L320.59,690.93 L321.14,690.90 L321.68,690.87 L322.23,690.84 L322.78,690.82 L323.33,690.79 L323.87,690.77 L324.42,690.75 L324.97,690.73 L325.51,690.71 L326.06,690.69 L326.61,690.68 L327.16,690.67 L327.70,690.66 L328.25,690.65 L328.80,690.64 L329.34,690.64 L329.89,690.63 L330.44,690.63 L330.99,690.63 L331.53,690.64 L332.08,690.64 L332.63,690.64 L333.18,690.64 L333.72,690.64 L334.27,690.64 L334.82,690.64 L335.36,690.65 L335.91,690.65 L336.46,690.65 L337.01,690.65 L337.55,690.66 L338.10,690.66 L338.65,690.67 L339.19,690.67 L339.74,690.67 L340.29,690.68 L340.84,690.68 L341.38,690.69 L341.93,690.69 L342.48,690.70 L343.02,690.70 L343.57,690.71 L344.12,690.71 L344.67,690.72 L345.21,690.72 L345.76,690.73 L346.31,690.74 L346.86,690.74 L347.40,690.75 L347.95,690.75 L348.50,690.76 L349.04,690.77 L349.59,690.78 L350.14,690.78 L350.69,690.79 L351.23,690.80 L351.78,690.80 L352.33,690.81 L352.87,690.82 L353.42,690.83 L353.97,690.83 L354.52,690.84 L355.06,690.85 L355.61,690.86 L356.16,690.86 L356.70,690.87 L357.25,690.88 L357.80,690.89 L358.35,690.90 L358.89,690.90 L359.44,690.91 L359.99,690.92 L360.54,690.93 L361.08,690.94 L361.63,690.94 L362.18,690.95 L362.72,690.96 L363.27,690.97 L363.82,690.98 L364.37,690.98 L364.91,690.99 L365.46,691.00 L366.01,691.01 L366.55,691.02 L367.10,691.02 L367.65,691.03 L368.20,691.04 L368.74,691.05 L369.29,691.05 L369.84,691.06 L370.38,691.07 L370.93,691.08 L371.48,691.08 L372.03,691.09 L372.57,691.10 L373.12,691.11 L373.67,691.11 L374.22,691.12 L374.76,691.13 L375.31,691.13 L375.86,691.14 L376.40,691.15 L376.95,691.15 L377.50,691.16 L378.05,691.16 L378.59,691.17 L379.14,691.17 L379.69,691.18 L380.23,691.19 L380.78,691.19 L381.33,691.20 L381.88,691.20 L382.42,691.20 L382.97,691.21 L383.52,691.21 L384.06,691.22 L384.61,691.22 L385.16,691.22 L385.71,691.23 L386.25,691.23 L386.80,691.23 L387.35,691.24 L387.90,691.24 L388.44,691.24 L388.99,691.24 L389.54,691.25 L390.08,691.25 L390.63,691.25 L391.18,691.25 L391.73,691.25 L392.27,691.25 L392.82,691.25 L393.37,691.25 L393.91,691.25 L394.46,691.25 L395.01,691.25 L395.56,691.25 L396.10,691.25 L396.65,691.25 L397.20,691.25 L397.74,691.25 L398.29,691.25 L398.84,691.25 L399.39,691.25 L399.93,691.25 L400.48,691.25 L401.03,691.25 L401.58,691.25 L402.12,691.25 L402.67,691.25 L403.22,691.25 L403.76,691.25 L404.31,691.25 L404.86,691.25 L405.41,691.25 L405.95,691.25 L406.50,691.25 L407.05,691.25 L407.59,691.25 L408.14,691.25 L408.69,691.25 L409.24,691.25 L409.78,691.25 L410.33,691.25 L410.88,691.25 L411.42,691.25 L411.97,691.25 L412.52,691.25 L413.07,691.25 L413.61,691.25 L414.16,691.25 L414.71,691.25 L415.26,691.25 L415.80,691.25 L416.35,691.25 L416.90,691.25 L417.44,691.25 L417.99,691.25 L418.54,691.25 L419.09,691.25 L419.63,691.25 L420.18,691.25 L420.73,691.25 L421.27,691.25 L421.82,691.25 L422.37,691.25 L422.92,691.25 L423.46,691.25 L424.01,691.25 L424.56,691.25 L425.10,691.25 L425.65,691.25 L426.20,691.25 L426.75,691.25 L427.29,691.25 L427.84,691.25 L428.39,691.25 L428.94,691.25 L429.48,691.25 L430.03,691.25 L430.58,691.25 L431.12,691.25 L431.67,691.25 L432.22,691.25 L432.77,691.25 L433.31,691.25 L433.86,691.25 L434.41,691.25 L434.95,691.25 L435.50,691.25 L436.05,691.25 L436.60,691.25 L437.14,691.25 L437.69,691.25 L438.24,691.25 L438.78,691.25 L439.33,691.25 L439.88,691.25 L440.43,691.25 L440.97,691.25 L441.52,691.25 L442.07,691.25 L442.62,691.25 L443.16,691.25 L443.71,691.25 L444.26,691.25 L444.80,691.25 L445.35,691.25 L445.90,691.25 L446.45,691.25 L446.99,691.25 L447.54,691.25 L448.09,691.25 L448.63,691.25 L449.18,691.25 L449.73,691.25 L450.28,691.25 L450.82,691.25 L451.37,691.25 L451.92,691.25 L452.46,691.25 L453.01,691.25 L453.56,691.25 L454.11,691.25 L454.65,691.25 L455.20,691.25 L455.75,691.25 L456.30,691.25 L456.84,691.25 L457.39,691.25 L457.94,691.25 L458.48,691.25 L459.03,691.25 L459.58,691.25 L460.13,691.25 L460.67,691.25 L461.22,691.25 L461.77,691.25 L462.31,691.25 L462.86,691.25 L463.41,691.25 L463.96,691.25 L464.50,691.25 L465.05,691.25 L465.60,691.25 L466.14,691.25 L466.69,691.25 L467.24,691.25 L467.79,691.25 L468.33,691.25 L468.88,691.25 L469.43,691.25 L469.98,691.25 L470.52,691.25 L471.07,691.25 L471.62,691.25 L472.16,691.25 L472.71,691.25 L473.26,691.25 L473.81,691.25 L474.35,691.25 L474.90,691.25 L475.45,691.25 L475.99,691.25 L476.54,691.25 L477.09,691.25 L477.64,691.25 L478.18,691.25 L478.73,691.25 L479.28,691.25 L479.82,691.25 L480.37,691.25 L480.92,691.25 L481.47,691.25 L482.01,691.25 L482.56,691.25 L483.11,691.25 L483.66,691.25 L484.20,691.25 L484.75,691.25 L485.30,691.25 L485.84,691.25 L486.39,691.25 L486.94,691.25 L487.49,691.25 L488.03,691.25 L488.58,691.25 L489.13,691.25 L489.67,691.25 L490.22,691.25 L490.77,691.25 L491.32,691.25 L491.86,691.25 L492.41,691.25 L492.96,691.25 L493.50,691.25 L494.05,691.25 L494.60,691.25 L495.15,691.25 L495.69,691.25 L496.24,691.25 L496.79,691.25 L497.34,691.25 L497.88,691.25 L498.43,691.25 L498.98,691.25 L499.52,691.25 L500.07,691.25 L500.62,691.25 L501.17,691.25 L501.71,691.25 L502.26,691.25 L502.81,691.25 L503.35,691.25 L503.90,691.25 L504.45,691.25 L505.00,691.25 L505.54,691.25 L506.09,691.25 L506.64,691.25 L507.18,691.25 L507.73,691.25 L508.28,691.25 L508.83,691.25 L509.37,691.25 L509.92,691.25 L510.47,691.25 L511.02,691.25 L511.56,691.25 L512.11,691.25 L512.66,691.25 L513.20,691.25 L513.75,691.25 L514.30,691.25 L514.85,691.25 L515.39,691.25 L515.94,691.25 L516.49,691.25 L517.03,691.25 L517.58,691.25 L518.13,691.25 L518.68,691.25 L519.22,691.25 L519.77,691.25 L520.32,691.25 L520.86,691.25 L521.41,691.25 L521.96,691.25 L522.51,691.25 L523.05,691.25 L523.60,691.25 L524.15,691.25 L524.70,691.25 L525.24,691.25 L525.79,691.25 L526.34,691.25 L526.88,691.25 L527.43,691.25 L527.98,691.25 L528.53,691.25 L529.07,691.25 L529.62,691.25 L530.17,691.25 L530.71,691.25 L531.26,691.25 L531.81,691.25 L532.36,691.25 L532.90,691.25 L533.45,691.25 L534.00,691.25 L534.54,691.25 L535.09,691.25 L535.64,691.25 L536.19,691.25 L536.73,691.25 L537.28,691.25 L537.83,691.25 L538.38,691.25 L538.92,691.25 L539.47,691.25 L540.02,691.25 L540.56,691.25 L541.11,691.25 L541.66,691.25 L542.21,691.25 L542.75,691.25 L543.30,691.25 L543.85,691.25 L544.39,691.25 L544.94,691.25 L545.49,691.25 L546.04,691.25 L546.58,691.25 L547.13,691.25 L547.68,691.25 L548.22,691.25 L548.77,691.25 L549.32,691.25 L549.87,691.25 L550.41,691.25 L550.96,691.25 L551.51,691.25 L552.06,691.25 L552.60,691.25 L553.15,691.25 L553.70,691.25 L554.24,691.25 L554.79,691.25 L555.34,691.25 L555.89,691.25 L556.43,691.25 L556.98,691.25 L557.53,691.25 L558.07,691.25 L558.62,691.25 L559.17,691.25 L559.72,691.25 L560.26,691.25 L560.81,691.25 L561.36,691.25 L561.90,691.25 L562.45,691.25 L563.00,691.25 L563.55,691.25 L564.09,691.25 L564.64,691.25 L565.19,691.25 L565.74,691.25 L566.28,691.25 L566.83,691.25 L567.38,691.25 L567.92,691.25 L568.47,691.25 L569.02,691.25 L569.57,691.25 L570.11,691.25 L570.66,691.25 L571.21,691.25 L571.75,691.25 L572.30,691.25 L572.85,691.25 L573.40,691.25 L573.94,691.25 L574.49,691.25 L575.04,691.25 L575.58,691.25 L576.13,691.25 L576.68,691.25 L577.23,691.25 L577.77,691.25 L578.32,691.25 L578.87,691.25 L579.42,691.25 L579.96,691.25 L580.51,691.25 L581.06,691.25 L581.60,691.25 L582.15,691.25 L582.70,691.25 L583.25,691.25 L583.79,691.25 L584.34,691.25 L584.89,691.25 L585.43,691.25 L585.98,691.25 L586.53,691.25 L587.08,691.25 L587.62,691.25 L588.17,691.25 L588.72,691.25 L589.26,691.25 L589.81,691.25 L590.36,691.25 L590.91,691.25 L591.45,691.25 L592.00,691.25 L592.55,691.25 L593.10,691.25 L593.64,691.25 L594.19,691.25 L594.74,691.25 L595.28,691.25 L595.83,691.25 L596.38,691.25 L596.93,691.25 L597.47,691.25 L598.02,691.25 L598.57,691.25 L599.11,691.25 L599.66,691.25 L600.21,691.25 L600.76,691.25 L601.30,691.25 L601.85,691.25 L602.40,691.25 L602.94,691.25 L603.49,691.25 L604.04,691.25 L604.59,691.25 L605.13,691.25 L605.68,691.25 L606.23,691.25 L606.78,691.25 L607.32,691.25 L607.87,691.25 L608.42,691.25 L608.96,691.25 L609.51,691.25 L610.06,691.25 L610.61,691.25 L611.15,691.25 L611.70,691.25" fill="none" stroke="#c0303a" stroke-width="2.2" stroke-linejoin="round"/>
<text x="64.20" y="1024.10" text-anchor="middle" font-size="15.9">0</text>
<text x="118.95" y="1024.10" text-anchor="middle" font-size="15.9">20</text>
<text x="173.70" y="1024.10" text-anchor="middle" font-size="15.9">40</text>
<text x="228.45" y="1024.10" text-anchor="middle" font-size="15.9">60</text>
<text x="283.20" y="1024.10" text-anchor="middle" font-size="15.9">80</text>
<text x="337.95" y="1024.10" text-anchor="middle" font-size="15.9">100</text>
<text x="392.70" y="1024.10" text-anchor="middle" font-size="15.9">120</text>
<text x="447.45" y="1024.10" text-anchor="middle" font-size="15.9">140</text>
<text x="502.20" y="1024.10" text-anchor="middle" font-size="15.9">160</text>
<text x="556.95" y="1024.10" text-anchor="middle" font-size="15.9">180</text>
<text x="611.70" y="1024.10" text-anchor="middle" font-size="15.9">200</text>
<text x="56.40" y="1006.90" text-anchor="end" font-size="15.9">-2</text>
<text x="56.40" y="945.10" text-anchor="end" font-size="15.9">0</text>
<text x="56.40" y="884.30" text-anchor="end" font-size="15.9">2</text>
<text x="56.40" y="822.70" text-anchor="end" font-size="15.9">4</text>
<text x="56.40" y="760.20" text-anchor="end" font-size="15.9">6</text>
<text x="56.40" y="698.65" text-anchor="end" font-size="15.9">8</text>
<text x="56.40" y="637.10" text-anchor="end" font-size="15.9">10</text>
<text x="56.40" y="574.80" text-anchor="end" font-size="15.9">12</text>
<rect x="321.9" y="581.9" width="253.90" height="45.00" fill="#fff" stroke="#333333" stroke-width="1.7"/>
<line x1="327" y1="594.1" x2="377" y2="594.1" stroke="#4db6dc" stroke-width="2"/>
<line x1="327" y1="615.4" x2="377" y2="615.4" stroke="#cc4444" stroke-width="2"/>
<text x="380.6" y="600.60" font-size="15.08">Response without Controller</text>
<text x="380.6" y="620.80" font-size="15.08">Response with Controller</text>
<text x="338.50" y="1048.10" text-anchor="middle" font-size="18.2">Time(s)</text>
<g transform="translate(27.5,851.9) rotate(-90)" font-size="18.35"><text x="0" y="0">Temperature(</text><circle cx="115.9" cy="-11.5" r="1.15" fill="none" stroke="#262626" stroke-width="0.9"/><text transform="translate(117.26,0) scale(0.86,1)" x="0" y="0">C</text><text x="131.3" y="0">)</text></g>

<rect x="34.2" y="110.5" width="64.6" height="282.5" fill="none" stroke="#ff0000" stroke-width="3.2"/>
<line x1="103.9" y1="512.9" x2="137.2" y2="512.9" stroke="#fbf1b8" stroke-width="1.5"/>
<polygon points="79.4,405.5 85.6,403.6 121.6,516.4 128.7,514.2 124.5,537.7 108.2,520.6 114.85,518.5" fill="#ff0000"/>

<text x="337.7" y="1082.2" text-anchor="middle" style="font-family:'Liberation Serif', serif;font-weight:bold;fill:#000" font-size="22.2">(c) 70%</text>
</svg>
</body></html>
